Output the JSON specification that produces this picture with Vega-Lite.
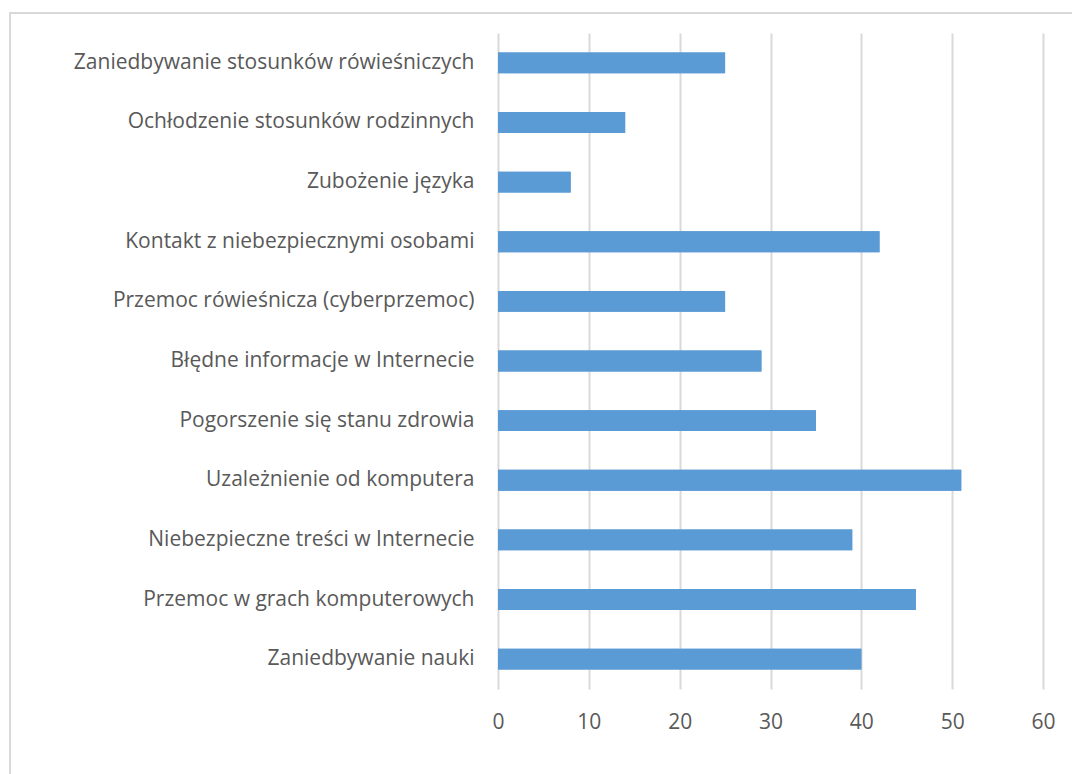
{
  "$schema": "https://vega.github.io/schema/vega-lite/v6.json",
  "width": 1070,
  "height": 770,
  "autosize": {"type": "none"},
  "padding": {"left": 10, "top": 13, "right": 0, "bottom": 0},
  "background": "white",
  "config": {"view": {"stroke": "#d9d9d9", "strokeWidth": 2}},
  "data": {
    "values": [
      {"cat": "Zaniedbywanie stosunków rówieśniczych", "val": 25},
      {"cat": "Ochłodzenie stosunków rodzinnych", "val": 14},
      {"cat": "Zubożenie języka", "val": 8},
      {"cat": "Kontakt z niebezpiecznymi osobami", "val": 42},
      {"cat": "Przemoc rówieśnicza (cyberprzemoc)", "val": 25},
      {"cat": "Błędne informacje w Internecie", "val": 29},
      {"cat": "Pogorszenie się stanu zdrowia", "val": 35},
      {"cat": "Uzależnienie od komputera ", "val": 51},
      {"cat": "Niebezpieczne treści w Internecie", "val": 39},
      {"cat": "Przemoc w grach komputerowych", "val": 46},
      {"cat": "Zaniedbywanie nauki", "val": 40}
    ]
  },
  "encoding": {
    "y": {
      "field": "cat",
      "type": "nominal",
      "sort": null,
      "title": null,
      "scale": {"range": [20, 676], "paddingInner": 0.65, "paddingOuter": 0.325},
      "axis": {
        "orient": "left",
        "offset": -464,
        "domain": false,
        "ticks": false,
        "tickSize": 0,
        "labelPadding": 0,
        "labelFont": "Open Sans",
        "labelFontSize": 21,
        "labelColor": "#595959",
        "labelLimit": 0,
        "grid": false
      }
    }
  },
  "layer": [
    {
      "mark": {"type": "bar", "color": "#5b9bd5"},
      "encoding": {
        "x": {
          "field": "val",
          "type": "quantitative",
          "title": null,
          "scale": {"domain": [0, 60], "range": [488, 1033], "nice": false},
          "axis": {
            "orient": "top",
            "values": [0, 10, 20, 30, 40, 50, 60],
            "offset": 0,
            "domain": false,
            "ticks": false,
            "labels": false,
            "grid": true,
            "gridColor": "#d9d9d9",
            "gridWidth": 2
          }
        }
      }
    },
    {
      "mark": {"type": "bar", "color": "#5b9bd5"},
      "encoding": {
        "x": {
          "field": "val",
          "type": "quantitative",
          "title": null,
          "scale": {"domain": [0, 60], "range": [488, 1033], "nice": false},
          "axis": {
            "orient": "bottom",
            "values": [0, 10, 20, 30, 40, 50, 60],
            "offset": -72,
            "domain": false,
            "ticks": false,
            "tickSize": 0,
            "labelPadding": 0,
            "labelFlush": false,
            "grid": false,
            "labelFont": "Open Sans",
            "labelFontSize": 21,
            "labelColor": "#595959"
          }
        }
      }
    }
  ],
  "resolve": {"axis": {"x": "independent"}}
}
